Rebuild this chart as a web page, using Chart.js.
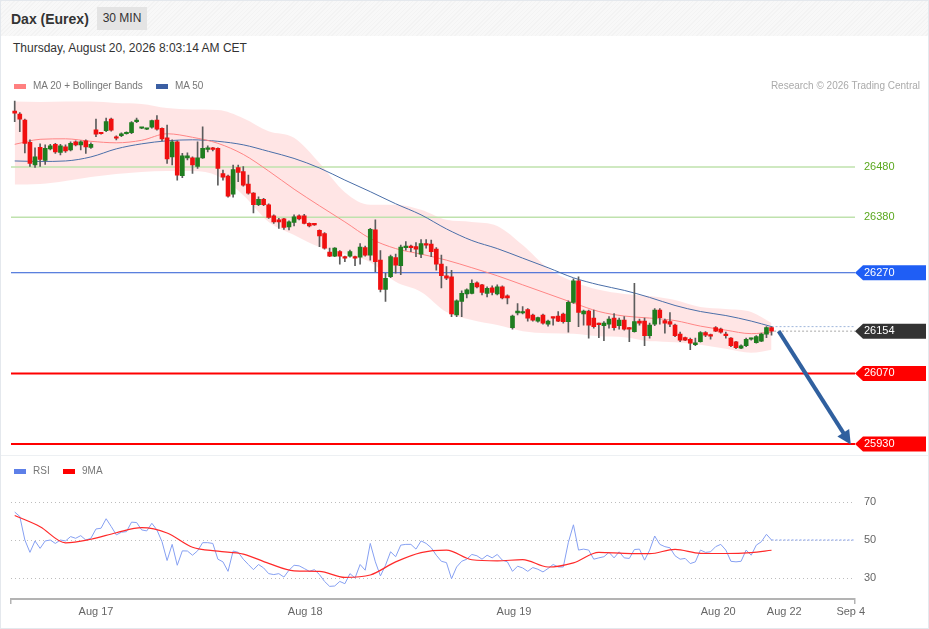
<!DOCTYPE html>
<html><head><meta charset="utf-8">
<script src="https://cdn.jsdelivr.net/npm/chart.js@4.4.1/dist/chart.umd.min.js"></script>
<style>
html,body{margin:0;padding:0;background:#fff;}
body{width:929px;height:629px;position:relative;overflow:hidden;font-family:"Liberation Sans",Arial,Helvetica,sans-serif;}
#frame{position:absolute;left:0;top:0;width:929px;height:629px;box-sizing:border-box;border:1px solid #e4e8ed;}
#hdr{position:absolute;left:1px;top:1px;width:927px;height:35px;background:repeating-linear-gradient(135deg,#f3f3f3 0,#f3f3f3 1px,#f8f8f8 1px,#f8f8f8 3px);}
#title{position:absolute;left:11px;top:11px;font-size:14px;font-weight:bold;color:#333;line-height:17px;white-space:nowrap;}
#tf{position:absolute;left:97px;top:7px;width:50px;height:23px;background:#e4e4e4;color:#333;font-size:12px;line-height:23px;text-align:center;}
#date{position:absolute;left:13px;top:41px;font-size:12px;color:#333;line-height:14px;white-space:nowrap;}
.leg{position:absolute;font-size:10px;color:#777;line-height:12px;white-space:nowrap;}
.sw{position:absolute;width:12px;height:5px;}
#divider{position:absolute;left:1px;top:455px;width:927px;height:1px;background:#edf0f3;}
canvas{position:absolute;left:0;}
</style></head>
<body>
<div id="frame"></div>
<div id="hdr"></div>
<div id="title">Dax (Eurex)</div>
<div id="tf">30 MIN</div>
<div id="date">Thursday, August 20, 2026 8:03:14 AM CET</div>
<div id="divider"></div>
<canvas id="price" width="929" height="370" style="top:89px"></canvas>
<canvas id="rsiC" width="929" height="169" style="top:460px"></canvas>
<div class="sw" style="left:14px;top:84px;background:#ff8080"></div>
<div class="leg" style="left:33px;top:80px">MA 20 + Bollinger Bands</div>
<div class="sw" style="left:156px;top:84px;background:#3b5fa3"></div>
<div class="leg" style="left:175px;top:80px">MA 50</div>
<div class="leg" style="right:9px;top:80px;color:#aaa">Research © 2026 Trading Central</div>
<div class="sw" style="left:14px;top:469px;background:#5d7fe8"></div>
<div class="leg" style="left:33px;top:465px">RSI</div>
<div class="sw" style="left:63px;top:469px;background:#f00"></div>
<div class="leg" style="left:82px;top:465px">9MA</div>
<script>
// ---------------- DATA ----------------
const candleOpen = [26591,26585,26573,26529,26484,26519,26493,26516,26525,26509,26520,26514,26530,26524,26532,26519,26554,26547,26552,26575,
26540,26542,26546,26548,26570,26557,26555,26559,26573,26557,26538,26500,26530,26463,26498,26498,26481,26498,26515,26517,
26517,26467,26462,26426,26479,26471,26446,26428,26405,26416,26405,26383,26375,26377,26361,26370,26383,26383,26368,26366,
26354,26348,26311,26303,26312,26302,26303,26302,26301,26320,26305,26355,26295,26237,26262,26300,26284,26320,26321,26322,
26307,26327,26327,26317,26287,26264,26262,26186,26213,26228,26229,26250,26246,26229,26240,26228,26242,26224,26161,26190,
26190,26197,26186,26174,26186,26168,26181,26184,26188,26173,26211,26254,26188,26194,26180,26168,26165,26168,26180,26165,
26176,26160,26153,26174,26174,26145,26168,26196,26175,26173,26166,26148,26141,26138,26127,26133,26151,26145,26161,26158,
26148,26140,26133,26120,26125,26138,26131,26134,26148,26161];
const candleHigh = [26611,26588,26575,26534,26518,26526,26524,26525,26527,26525,26524,26530,26532,26532,26534,26528,26575,26549,26577,26577,
26542,26548,26550,26570,26577,26558,26556,26573,26582,26558,26563,26534,26532,26507,26508,26500,26530,26560,26522,26519,
26518,26474,26464,26484,26484,26481,26464,26429,26421,26418,26407,26385,26378,26378,26373,26385,26385,26386,26369,26367,
26355,26350,26319,26320,26314,26303,26315,26303,26328,26323,26358,26375,26314,26269,26305,26307,26325,26332,26325,26330,
26336,26336,26335,26320,26305,26282,26275,26216,26234,26238,26256,26252,26247,26242,26244,26246,26244,26226,26186,26209,
26203,26199,26188,26182,26188,26176,26182,26193,26190,26214,26258,26262,26196,26196,26196,26170,26173,26183,26189,26180,
26183,26161,26249,26178,26180,26170,26199,26199,26178,26191,26168,26152,26142,26140,26140,26153,26153,26148,26163,26160,
26152,26141,26134,26127,26140,26140,26145,26150,26163,26163];
const candleLow = [26570,26550,26508,26481,26479,26481,26485,26514,26507,26504,26509,26512,26522,26514,26507,26517,26540,26545,26550,26551,
26534,26540,26545,26546,26568,26556,26554,26557,26553,26532,26487,26484,26454,26459,26494,26467,26477,26497,26510,26512,
26444,26454,26420,26420,26451,26442,26426,26389,26403,26403,26378,26368,26358,26356,26355,26363,26375,26367,26361,26364,
26322,26317,26302,26302,26287,26292,26301,26284,26287,26303,26295,26272,26232,26213,26260,26269,26266,26315,26312,26302,
26300,26319,26302,26275,26240,26256,26183,26183,26183,26220,26228,26240,26226,26222,26226,26226,26218,26208,26158,26186,
26188,26174,26174,26172,26168,26164,26166,26173,26170,26152,26209,26163,26166,26140,26160,26141,26135,26160,26156,26158,
26156,26133,26152,26166,26125,26140,26165,26168,26150,26163,26143,26133,26135,26117,26125,26132,26143,26138,26153,26150,
26140,26123,26119,26119,26123,26136,26130,26133,26141,26146];
const candleClose = [26587,26575,26527,26487,26500,26495,26517,26522,26510,26522,26512,26527,26524,26530,26520,26525,26545,26546,26570,26553,
26537,26546,26549,26568,26571,26558,26555,26572,26555,26536,26496,26530,26464,26502,26502,26484,26498,26517,26518,26515,
26477,26460,26422,26475,26469,26444,26428,26405,26416,26405,26380,26371,26371,26360,26371,26381,26377,26368,26363,26365,
26343,26319,26303,26319,26303,26299,26312,26299,26321,26305,26356,26292,26237,26259,26302,26285,26321,26322,26320,26317,
26328,26325,26312,26287,26264,26259,26188,26214,26229,26236,26249,26242,26231,26239,26231,26242,26220,26220,26184,26194,
26191,26180,26176,26181,26170,26174,26180,26174,26173,26211,26254,26191,26194,26166,26163,26167,26170,26178,26161,26176,
26158,26158,26173,26170,26145,26166,26196,26181,26170,26168,26145,26136,26136,26130,26131,26151,26146,26144,26154,26152,
26145,26125,26121,26125,26138,26139,26143,26148,26161,26154];

// indicator lines, read every 5 bars
const lineIdx = [0,5,10,15,20,25,30,35,40,45,50,55,60,65,70,75,80,85,90,95,100,105,110,115,120,125,130,135,140,145,149];
const ma20    = [26525,26535,26536,26531,26528,26533,26546,26539,26527,26505,26472,26436,26403,26371,26338,26318,26307,26295,26280,26264,26246,26228,26210,26193,26184,26180,26175,26164,26156,26149,26152];
const bbUpper = [26610,26609,26610,26610,26607,26605,26597,26594,26593,26577,26551,26538,26488,26430,26405,26405,26395,26375,26371,26363,26325,26279,26252,26236,26228,26224,26216,26202,26198,26192,26170];
const bbLower = [26445,26446,26452,26460,26466,26470,26472,26472,26462,26424,26371,26345,26321,26307,26291,26252,26232,26192,26176,26166,26154,26150,26149,26144,26142,26134,26132,26127,26119,26111,26117];
const ma50    = [26492,26491,26492,26500,26516,26526,26532,26534,26531,26524,26511,26497,26478,26454,26431,26407,26385,26357,26334,26318,26299,26280,26260,26246,26235,26221,26205,26193,26185,26174,26163];

const rsi = [64.7,62.4,50,43.5,49.5,45.6,49.5,50,48.2,50,49.5,51.8,50.9,52.3,50,50.9,55.8,56.2,61.2,57.1,
52.7,54.1,54.4,59.4,59.2,55.3,54.8,58.8,55.3,49.1,39.2,47.7,36.7,44.3,44.2,42,44.3,48.6,48.6,48.2,
39.9,38.5,33.5,44.2,43.5,39.9,37.1,34.4,37.1,35.3,32.3,31.8,32.3,30.5,34.1,36.7,36.4,35,33.5,34.4,
31.8,28.2,25.6,25.8,28.2,27,32.3,30,37.1,34.1,48.2,38.5,31.1,36.7,43.8,41.2,47.3,47.7,47.7,45.2,
49.5,48.2,45.9,42,38.8,38.1,29.6,35.8,38.8,39.9,42.4,41.7,39.9,42,40.6,42.4,39.4,38.5,33.5,36.2,
35.3,33.5,35.5,34.6,33.2,35,37.1,35.8,35.8,48.8,58,44.7,45.2,44.7,39.9,40.6,41.2,43.5,40.6,43.8,
40.6,40.3,45,45.2,39.4,44.7,52.1,47.7,46.5,45.9,41.7,39.9,40.3,37.6,38.5,44.7,43.5,43.8,46.5,47.7,
44.7,38.8,38.5,38.8,44.7,42,47.3,49.1,53,50];
const rsiMa9 = [62.9,57,48.5,50.4,53.8,56.5,53.7,46.2,44.1,42.6,37.7,33.8,33.5,30.3,31.6,38.5,43.4,44.7,39.6,39,39.7,35.8,38,43.5,43,42.8,45.1,43,42.9,43.4,44.6];

const levelValues = [26480, 26380, 26270, 26154, 26070, 25930];
const levelLabels = ['26480','26380','26270','26154','26070','25930'];
const rsiTickValues = [30, 50, 70];
const dayTickIdx = [16, 57.2, 98.3, 138.5, 151.5, 164.6];
const dayTickLabels = ['Aug 17','Aug 18','Aug 19','Aug 20','Aug 22','Sep 4'];
const arrowFrom = {i: 150.4, p: 26154};
const arrowTo = {i: 164.6, p: 25929};

// ---------------- STYLE ----------------
const X_MIN = -0.73, X_MAX = 165.43;
const levelLineColors = ['#bfe2ad','#bfe2ad','#2a5ad4','rgba(0,0,0,0)','#ff0000','#ff0000'];
const levelLineWidths = [1.5,1.5,1,0,2,2];
const levelTagColors = [null,null,'#1f5ef5','#333333','#ff0000','#ff0000'];
const levelTextColors = ['#5aa81e','#5aa81e','#ffffff','#ffffff','#ffffff','#ffffff'];

Chart.defaults.font.family = '"Liberation Sans", Arial, Helvetica, sans-serif';
Chart.defaults.font.size = 11;
Chart.defaults.color = '#666';

const idxs = candleOpen.map((_, i) => i);
const last = idxs.length - 1;
const pts = (xs, ys) => xs.map((x, k) => ({x: x, y: ys[k]}));

const tagPlugin = {
  id: 'tags',
  beforeDraw(chart) {
    const {ctx, chartArea, scales} = chart;
    const x0 = chartArea.right;
    levelValues.forEach((v, k) => {
      const c = levelTagColors[k];
      if (!c) return;
      const y = scales.y.getPixelForValue(v);
      const h = 7.5;
      ctx.save();
      ctx.fillStyle = c;
      ctx.beginPath();
      ctx.moveTo(x0, y);
      ctx.lineTo(x0 + 8, y - h);
      ctx.lineTo(chart.width - 3, y - h);
      ctx.lineTo(chart.width - 3, y + h);
      ctx.lineTo(x0 + 8, y + h);
      ctx.closePath();
      ctx.fill();
      ctx.restore();
    });
  }
};

const arrowPlugin = {
  id: 'arrow',
  afterDatasetsDraw(chart) {
    const {ctx, scales} = chart;
    const x1 = scales.x.getPixelForValue(arrowFrom.i), y1 = scales.y.getPixelForValue(arrowFrom.p);
    const x2 = scales.x.getPixelForValue(arrowTo.i), y2 = scales.y.getPixelForValue(arrowTo.p);
    const ang = Math.atan2(y2 - y1, x2 - x1);
    const hl = 14, hw = 7;
    const bx = x2 - hl * Math.cos(ang), by = y2 - hl * Math.sin(ang);
    ctx.save();
    ctx.strokeStyle = '#30609f';
    ctx.fillStyle = '#30609f';
    ctx.lineWidth = 4;
    ctx.beginPath();
    ctx.moveTo(x1, y1);
    ctx.lineTo(bx + 2 * Math.cos(ang), by + 2 * Math.sin(ang));
    ctx.stroke();
    ctx.beginPath();
    ctx.moveTo(x2, y2);
    ctx.lineTo(bx + hw * Math.sin(ang), by - hw * Math.cos(ang));
    ctx.lineTo(bx - hw * Math.sin(ang), by + hw * Math.cos(ang));
    ctx.closePath();
    ctx.fill();
    ctx.restore();
  }
};

const levelDatasets = levelValues.map((v, k) => ({
  type: 'line', data: [{x: X_MIN, y: v}, {x: X_MAX, y: v}],
  borderColor: levelLineColors[k], borderWidth: levelLineWidths[k], pointRadius: 0, order: 8
}));

new Chart(document.getElementById('price'), {
  type: 'bar',
  data: {
    datasets: [
      {type: 'line', data: pts(lineIdx, bbUpper), borderWidth: 0, borderColor: 'rgba(0,0,0,0)', backgroundColor: 'rgba(255,0,0,0.1)', fill: '+1', pointRadius: 0, cubicInterpolationMode: 'monotone', order: 10},
      {type: 'line', data: pts(lineIdx, bbLower), borderWidth: 0, borderColor: 'rgba(0,0,0,0)', fill: false, pointRadius: 0, cubicInterpolationMode: 'monotone', order: 10},
      ...levelDatasets,
      {type: 'line', data: pts(lineIdx, ma20), borderColor: '#ff8585', borderWidth: 1, pointRadius: 0, cubicInterpolationMode: 'monotone', order: 6},
      {type: 'line', data: pts(lineIdx, ma50), borderColor: '#4a6ea8', borderWidth: 1, pointRadius: 0, cubicInterpolationMode: 'monotone', order: 6},
      {type: 'line', data: [{x: last, y: ma50[ma50.length - 1]}, {x: X_MAX, y: ma50[ma50.length - 1]}], borderColor: '#9fb6dc', borderWidth: 1, borderDash: [2, 2], pointRadius: 0, order: 6},
      {type: 'line', data: [{x: last + 0.5, y: candleClose[last]}, {x: X_MAX, y: candleClose[last]}], borderColor: '#a8a8a8', borderWidth: 1, borderDash: [2, 2], pointRadius: 0, order: 6},
      {type: 'bar', data: idxs.map(i => ({x: i, y: [candleLow[i], candleHigh[i]]})), backgroundColor: '#5c5c5c', barThickness: 1, grouped: false, order: 2},
      {type: 'bar', data: idxs.map(i => ({x: i, y: [candleOpen[i], candleClose[i]]})),
        backgroundColor: idxs.map(i => candleClose[i] >= candleOpen[i] ? '#1f7d1f' : '#f01010'),
        barThickness: 4, minBarLength: 1.5, grouped: false, order: 1}
    ]
  },
  options: {
    responsive: false, animation: false,
    layout: {padding: {left: 11, top: 7.5, right: 0, bottom: 7.5}},
    plugins: {legend: {display: false}, tooltip: {enabled: false}},
    scales: {
      x: {type: 'linear', min: X_MIN, max: X_MAX, offset: false, display: false,
        afterFit: s => { s.paddingLeft = 0; s.paddingRight = 0; s.paddingTop = 0; s.paddingBottom = 0; }},
      y: {type: 'linear', position: 'right', min: 25915, max: 26620, beginAtZero: false,
        afterBuildTicks: s => { s.ticks = levelValues.map(v => ({value: v})); },
        afterFit: s => { s.width = 74; s.paddingTop = 0; s.paddingBottom = 0; },
        grid: {display: false, drawTicks: false}, border: {display: false},
        ticks: {padding: 9, autoSkip: false, font: {size: 11}, color: c => levelTextColors[c.index],
          callback: (v, i) => levelLabels[i]}}
    }
  },
  plugins: [tagPlugin, arrowPlugin]
});

new Chart(document.getElementById('rsiC'), {
  type: 'line',
  data: {
    datasets: [
      {data: [{x: last, y: rsi[last]}, {x: X_MAX, y: rsi[last]}], borderColor: '#a9bcf2', borderWidth: 1.5, borderDash: [2, 2], pointRadius: 0, order: 3},
      {data: pts(idxs, rsi), borderColor: '#86a0f2', borderWidth: 1, pointRadius: 0, order: 2},
      {data: pts(lineIdx, rsiMa9), borderColor: '#ff2a2a', borderWidth: 1.2, pointRadius: 0, cubicInterpolationMode: 'monotone', order: 1}
    ]
  },
  options: {
    responsive: false, animation: false,
    layout: {padding: {left: 11, top: 4, right: 0, bottom: 0}},
    plugins: {legend: {display: false}, tooltip: {enabled: false}},
    scales: {
      x: {type: 'linear', min: X_MIN, max: X_MAX, offset: false, position: 'bottom',
        afterBuildTicks: s => { s.ticks = [X_MIN, ...dayTickIdx, X_MAX].map(v => ({value: v})); },
        afterFit: s => { s.height = 30; s.paddingLeft = 0; s.paddingRight = 0; },
        grid: {display: true, drawOnChartArea: false, drawTicks: true, tickLength: 5, lineWidth: 1.5,
          color: c => (c.index === 0 || c.index === dayTickIdx.length + 1) ? '#b3b3b3' : 'rgba(0,0,0,0)'},
        border: {display: true, color: '#b3b3b3', width: 2},
        ticks: {autoSkip: false, maxRotation: 0, padding: 1, color: '#666', font: {size: 11},
          callback: (v, i) => (i === 0 || i > dayTickIdx.length) ? '' : dayTickLabels[i - 1]}},
      y: {type: 'linear', position: 'right', min: 18.95, max: 90,
        afterBuildTicks: s => { s.ticks = rsiTickValues.map(v => ({value: v})); },
        afterFit: s => { s.width = 74; s.paddingTop = 0; s.paddingBottom = 0; },
        grid: {display: true, drawTicks: false, color: '#bdbdbd', lineWidth: 1},
        border: {display: false, dash: [1, 3]},
        ticks: {padding: 9, color: '#666', font: {size: 11}}}
    }
  }
});
</script>
</body></html>
